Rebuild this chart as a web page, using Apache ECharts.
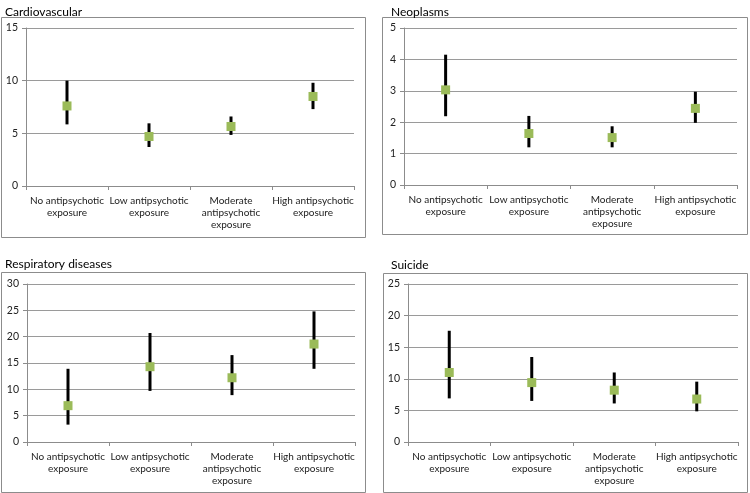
<!DOCTYPE html>
<html><head><meta charset="utf-8">
<script src="https://cdn.jsdelivr.net/npm/echarts@6/dist/echarts.min.js"></script>
<style>html,body{margin:0;padding:0;background:#fff}#c{width:750px;height:493px}</style>
</head><body><div id="c"></div>
<script>
var categories = ['No antipsychotic\nexposure','Low antipsychotic\nexposure','Moderate\nantipsychotic\nexposure','High antipsychotic\nexposure'];
var panelTitles = ['Cardiovascular','Neoplasms','Respiratory diseases','Suicide'];
var yMax = [15, 5, 30, 25];
var yStep = [5, 1, 5, 5];
var cardioEst = [7.6, 4.7, 5.65, 8.5];
var cardioLow = [5.85, 3.7, 4.85, 7.3];
var cardioHigh = [10.0, 5.95, 6.6, 9.8];
var neoEst = [3.03, 1.64, 1.51, 2.44];
var neoLow = [2.19, 1.2, 1.2, 1.98];
var neoHigh = [4.15, 2.2, 1.87, 2.97];
var respEst = [6.9, 14.3, 12.2, 18.6];
var respLow = [3.3, 9.7, 8.9, 13.9];
var respHigh = [13.9, 20.7, 16.5, 24.8];
var suiEst = [11.0, 9.4, 8.2, 6.8];
var suiLow = [6.9, 6.5, 6.1, 4.85];
var suiHigh = [17.6, 13.45, 11.0, 9.55];

var ests = [cardioEst, neoEst, respEst, suiEst];
var lows = [cardioLow, neoLow, respLow, suiLow];
var highs = [cardioHigh, neoHigh, respHigh, suiHigh];

var grids = [
  {left:26, width:328, top:28, height:158},
  {left:404, width:333, top:28, height:157},
  {left:27, width:328, top:284, height:158},
  {left:408, width:330, top:284, height:158}
];
var titlePos = [{x:0,y:1},{x:386,y:1},{x:0,y:253},{x:386,y:254}];
var frames = [
  {x:1.5,y:17.5,w:364,h:220},
  {x:382.5,y:17.5,w:365,h:217},
  {x:1.5,y:272.5,w:364,h:220},
  {x:383.5,y:273.5,w:364,h:219}
];
var font = 'Lato, "Noto Sans", sans-serif';
var option = {
  animation:false,
  backgroundColor:'#fff',
  title: panelTitles.map(function(t,i){return {text:t,left:titlePos[i].x,top:titlePos[i].y,textStyle:{fontFamily:font,fontSize:12,fontWeight:'normal',color:'#000'}};}),
  graphic: frames.map(function(f){return {type:'rect',shape:{x:f.x,y:f.y,width:f.w,height:f.h},style:{fill:'none',stroke:'#8c8c8c',lineWidth:1},z:-1};}),
  grid: grids,
  xAxis: grids.map(function(g,i){return {type:'category',gridIndex:i,data:categories,boundaryGap:true,
    axisLine:{lineStyle:{color:'#8c8c8c'}},axisTick:{show:true,length:4,lineStyle:{color:'#8c8c8c'}},
    axisLabel:{fontFamily:font,fontSize:10,color:'#222',lineHeight:12,margin:9,interval:0}};}),
  yAxis: grids.map(function(g,i){return {type:'value',gridIndex:i,min:0,max:yMax[i],interval:yStep[i],
    axisLine:{show:true,lineStyle:{color:'#8c8c8c'}},axisTick:{show:true,length:4,lineStyle:{color:'#8c8c8c'}},
    splitLine:{lineStyle:{color:'#9a9a9a'}},
    axisLabel:{fontFamily:font,fontSize:10.5,color:'#222',margin:8}};}),
  series: []
};
for (var i=0;i<4;i++){
  (function(i){
    option.series.push({type:'custom',xAxisIndex:i,yAxisIndex:i,
      data: categories.map(function(c,k){return [k, lows[i][k], highs[i][k]];}),
      renderItem:function(params,api){
        var p1=api.coord([api.value(0),api.value(1)]);
        var p2=api.coord([api.value(0),api.value(2)]);
        return {type:'line',shape:{x1:p1[0],y1:p1[1],x2:p2[0],y2:p2[1]},style:{stroke:'#000',lineWidth:3}};
      },z:2});
    option.series.push({type:'scatter',xAxisIndex:i,yAxisIndex:i,symbol:'rect',symbolSize:9,
      itemStyle:{color:'#9BBB59',opacity:1},data:ests[i],z:3});
  })(i);
}
var chart = echarts.init(document.getElementById('c'),null,{renderer:'canvas'});
chart.setOption(option);
</script></body></html>
